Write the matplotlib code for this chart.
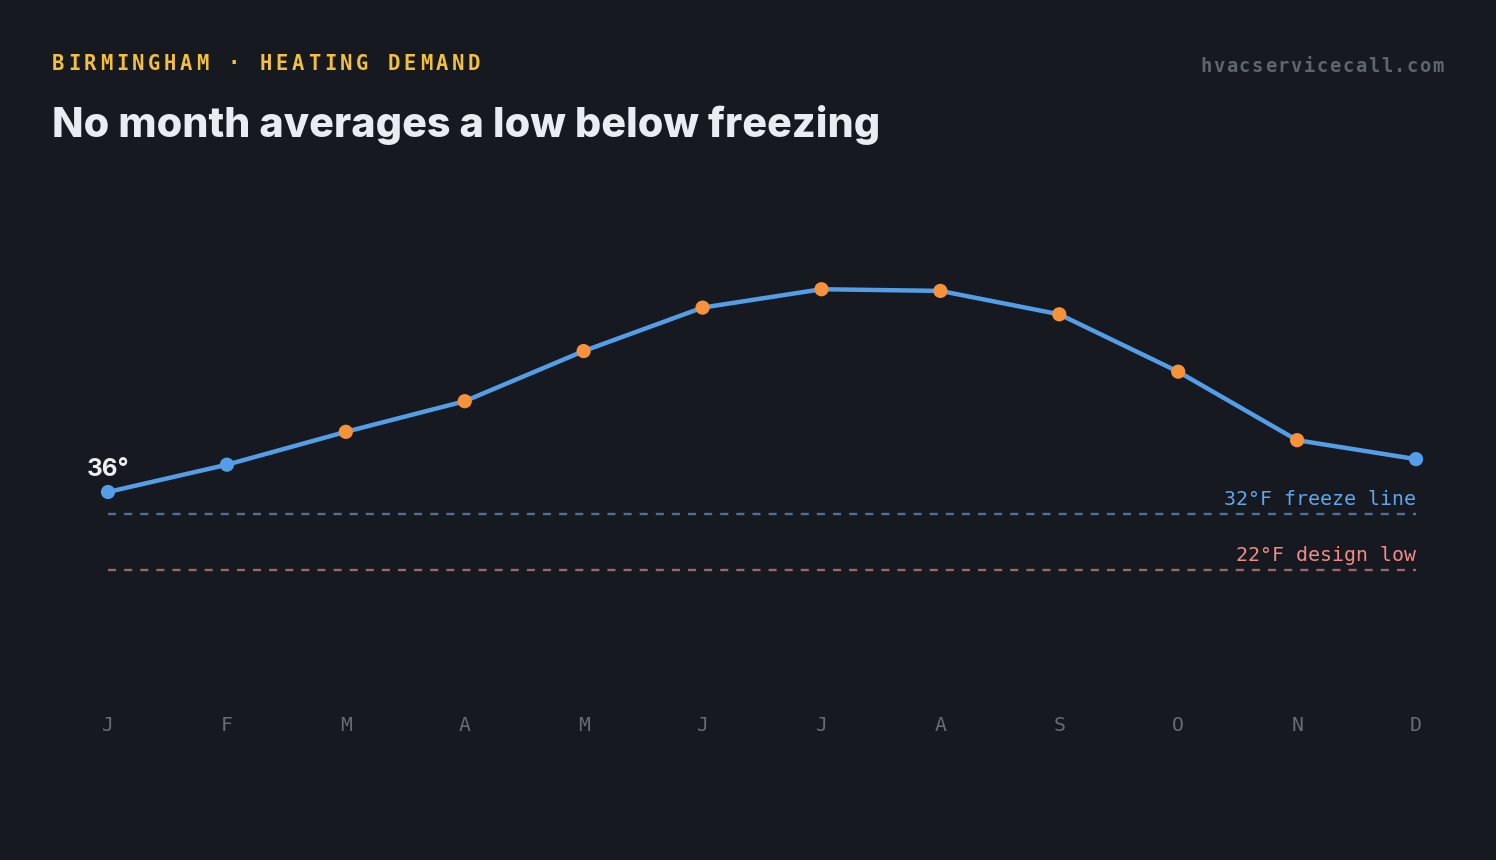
import matplotlib
matplotlib.use("Agg")
import matplotlib.pyplot as plt
import numpy as np

# ---- data ----
months = ["J", "F", "M", "A", "M", "J", "J", "A", "S", "O", "N", "D"]
avg_low_f = [36.0, 40.9, 46.8, 52.3, 61.3, 69.1, 72.4, 72.1, 67.9, 57.6, 45.3, 41.9]
freeze_f = 32
design_low_f = 22
cold_threshold_f = 44  # points below this are drawn blue
eyebrow = "BIRMINGHAM · HEATING DEMAND"
title = "No month averages a low below freezing"
source = "hvacservicecall.com"
freeze_label = "32°F freeze line"
design_label = "22°F design low"

# ---- style ----
BG = "#161920"
LINE = "#539ee6"
ORANGE = "#f5923a"
W, H, DPI = 1496, 860, 100

plt.rcParams["lines.scale_dashes"] = False
fig = plt.figure(figsize=(W / DPI, H / DPI), dpi=DPI, facecolor=BG)

# axes in pixel geometry
ax_left, ax_right = 108, 1416
y_top_px, y_bot_px = 191.2, 692.5
ax = fig.add_axes([ax_left / W, (H - y_bot_px) / H, (ax_right - ax_left) / W,
                   (y_bot_px - y_top_px) / H])
ax.set_facecolor(BG)
ax.set_xlim(0, len(months) - 1)
ax.set_ylim(0, 90)
for s in ax.spines.values():
    s.set_visible(False)
ax.set_yticks([])
x = np.arange(len(months))
ax.set_xticks(x)
ax.set_xticklabels(months, fontfamily="DejaVu Sans Mono", fontsize=14.2, color="#656c76")
ax.tick_params(axis="x", length=0, pad=17)

# reference lines
ax.plot([0, len(months) - 1], [freeze_f, freeze_f], color="#4c7096", lw=1.7,
        dashes=[5.8, 5.8], solid_capstyle="butt", clip_on=False, zorder=1)
ax.plot([0, len(months) - 1], [design_low_f, design_low_f], color="#9c666a", lw=1.7,
        dashes=[5.8, 5.8], solid_capstyle="butt", clip_on=False, zorder=1)
ax.annotate(freeze_label, xy=(len(months) - 1, freeze_f), xytext=(0, 6.5),
            textcoords="offset points", ha="right", va="baseline",
            fontfamily="DejaVu Sans Mono", fontsize=14.3, color="#62a6ec")
ax.annotate(design_label, xy=(len(months) - 1, design_low_f), xytext=(0, 6.5),
            textcoords="offset points", ha="right", va="baseline",
            fontfamily="DejaVu Sans Mono", fontsize=14.3, color="#f28c88")

# series
ax.plot(x, avg_low_f, color=LINE, lw=3.2, solid_capstyle="round",
        solid_joinstyle="round", zorder=3, clip_on=False)
colors = [LINE if v < cold_threshold_f else ORANGE for v in avg_low_f]
ax.scatter(x, avg_low_f, s=105, c=colors, zorder=4, clip_on=False, linewidths=0)
ax.annotate(f"{avg_low_f[0]:.0f}°", xy=(0, avg_low_f[0]), xytext=(0, 11.5),
            textcoords="offset points", ha="center", va="baseline",
            fontfamily="Inter", fontweight="bold", fontsize=17.5, color="#eceef1")

# header texts (pixel coordinates, y measured from top)
def pxt(xp, yp):
    return xp / W, (H - yp) / H

def spaced(s, x0, yb, pitch, **kw):
    for i, ch in enumerate(s):
        fx, fy = pxt(x0 + i * pitch, yb)
        fig.text(fx, fy, ch, ha="center", va="baseline", **kw)

spaced(eyebrow, 52 + 6, 70, 16.0, fontfamily="DejaVu Sans Mono", fontweight="bold",
       fontsize=14.8, color="#f4bf3d")
spaced(source, 1443 - 5 - 18 * 12.9, 72, 12.9, fontfamily="DejaVu Sans Mono",
       fontweight="bold", fontsize=13.5, color="#5f656e")

fx, fy = pxt(52, 137)
t = fig.text(fx, fy, title, ha="left", va="baseline", fontfamily="Inter",
             fontweight=800, fontsize=34, color="#e9ecf0")
fig.canvas.draw()
bb = t.get_window_extent()
t.set_fontsize(34 * 826 / bb.width)

fig.savefig("out.png", dpi=DPI, facecolor=BG)
